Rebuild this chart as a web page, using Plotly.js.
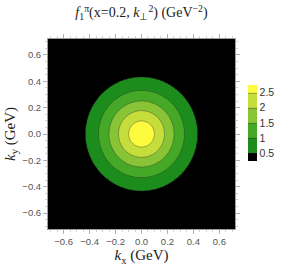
<!DOCTYPE html>
<html><head><meta charset="utf-8">
<script src="https://cdn.plot.ly/plotly-3.0.1.min.js"></script>
<style>html,body{margin:0;padding:0;background:#fff}#chart{width:284px;height:266px}</style>
</head><body><div id="chart"></div>
<script>
// Radial profile: k_perp (GeV) -> f_1^pi value
const kPerp = [0, 0.10, 0.177, 0.25, 0.33, 0.43, 0.72, 1.02];
const fVal  = [2.74, 2.5, 2.0, 1.5, 1.0, 0.5, 0.05, 0.0];
const levels = [0.5, 1, 1.5, 2, 2.5];
const levelLabels = ['0.5', '1', '1.5', '2', '2.5'];
const bandColors = ['#000000', '#1c8c1c', '#46a827', '#88c436', '#c6de3c', '#fdfb3e'];
const axisTicks = [-0.6, -0.4, -0.2, 0.0, 0.2, 0.4, 0.6];
const axisRange = [-0.72, 0.72];

function profile(r) {
  for (let i = 0; i < kPerp.length - 1; i++) {
    if (r <= kPerp[i + 1]) {
      const t = (r - kPerp[i]) / (kPerp[i + 1] - kPerp[i]);
      return fVal[i] + t * (fVal[i + 1] - fVal[i]);
    }
  }
  return fVal[fVal.length - 1];
}
const n = 161;
const grid = [];
for (let i = 0; i < n; i++) grid.push(axisRange[0] + (axisRange[1] - axisRange[0]) * i / (n - 1));
const z = grid.map(ky => grid.map(kx => profile(Math.sqrt(kx * kx + ky * ky))));

const cs = bandColors.map((c, i) => [i / (bandColors.length - 1), c]);

const trace = {
  type: 'contour', x: grid, y: grid, z: z,
  autocontour: false,
  contours: {start: levels[0], end: levels[levels.length - 1], size: 0.5, coloring: 'fill'},
  line: {color: 'rgba(40,40,40,0.6)', width: 0.6},
  colorscale: cs,
  hoverinfo: 'skip',
  colorbar: {
    x: 1.068, xanchor: 'left', xref: 'paper',
    y: 0.558, yanchor: 'middle',
    thickness: 9, thicknessmode: 'pixels',
    len: 76, lenmode: 'pixels',
    outlinewidth: 0,
    tickvals: levels, ticktext: levelLabels,
    ticks: '', ticklen: 0,
    tickfont: {family: 'Liberation Sans, Arial, sans-serif', size: 10.5, color: '#333'},
    xpad: 0, ypad: 0
  }
};

const axisCommon = {
  range: axisRange, tickvals: axisTicks, tickformat: '.1f',
  showgrid: false, zeroline: false,
  showline: true, linecolor: '#a0a0a0', linewidth: 1, mirror: 'ticks',
  ticks: 'outside', ticklen: 4, tickcolor: '#a0a0a0', tickwidth: 0.8,
  minor: {dtick: 0.05, ticks: 'outside', ticklen: 2, tickcolor: '#b0b0b0', tickwidth: 0.6},
  tickfont: {family: 'Liberation Sans, Arial, sans-serif', size: 9.5, color: '#555'}
};

const layout = {
  width: 284, height: 266,
  margin: {l: 48, r: 46, t: 39, b: 37, pad: 0},
  paper_bgcolor: '#fff', plot_bgcolor: '#000',
  font: {family: 'Liberation Serif, Times New Roman, serif', color: '#000'},
  title: {
    text: '<i>f</i><sub>1</sub><sup>π</sup>(x=0.2, <i>k</i><sub>⊥</sub><sup>2</sup>) (GeV<sup>−2</sup>)',
    font: {family: 'Liberation Serif, Times New Roman, serif', size: 14, color: '#222'},
    x: 0.5, xref: 'paper', y: 0.953, yref: 'container', yanchor: 'middle'
  },
  xaxis: Object.assign({}, axisCommon, {
    title: {text: '<i>k</i><sub>x</sub> (GeV)', standoff: 3,
            font: {family: 'Liberation Serif, Times New Roman, serif', size: 15, color: '#222'}}
  }),
  yaxis: Object.assign({}, axisCommon, {
    title: {text: '<i>k</i><sub>y</sub> (GeV)', standoff: 3,
            font: {family: 'Liberation Serif, Times New Roman, serif', size: 15, color: '#222'}}
  })
};

Plotly.newPlot('chart', [trace], layout, {displayModeBar: false, staticPlot: true});
</script>
</body></html>
